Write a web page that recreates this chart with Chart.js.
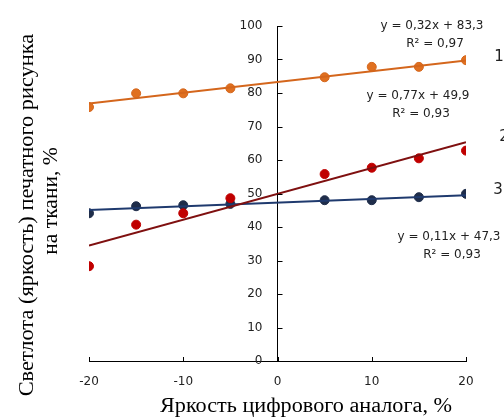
<!DOCTYPE html>
<html>
<head>
<meta charset="utf-8">
<script src="https://cdn.jsdelivr.net/npm/chart.js@4"></script>
<style>
  html, body { margin: 0; padding: 0; background: #fff; }
  #wrap { width: 504px; height: 417px; position: relative; }
</style>
</head>
<body>
<div id="wrap"><canvas id="chart" width="504" height="417"></canvas></div>
<script>
/* данные */
const xVals    = [-20, -15, -10, -5, 5, 10, 15, 20];
const series1  = [75.8, 79.9, 79.9, 81.4, 84.7, 87.8, 87.8, 89.8];   // 1 – оранжевая
const series2  = [28.3, 40.7, 44.1, 48.6, 55.8, 57.7, 60.5, 62.8];   // 2 – красная
const series3  = [44.1, 46.2, 46.5, 46.9, 48.0, 48.0, 48.9, 49.9];   // 3 – синяя
const trendX   = [-20, 20];
const trend1   = [76.9, 89.7];
const trend2   = [34.5, 65.3];
const trend3   = [45.1, 49.5];
const xTicks   = [-20, -10, 0, 10, 20];
const yTicks   = [0, 10, 20, 30, 40, 50, 60, 70, 80, 90, 100];
const eqLabels = [
  ['y = 0,32x + 83,3', 'R² = 0,97'],
  ['y = 0,77x + 49,9', 'R² = 0,93'],
  ['y = 0,11x + 47,3', 'R² = 0,93']
];
const seriesNames = ['1', '2', '3'];

const pts = (xs, ys) => xs.map((x, i) => ({ x, y: ys[i] }));

const ORANGE = '#E07020', ORANGE_L = '#D4661C';
const RED = '#C00000', RED_L = '#7F1010';
const NAVY = '#1F2D4A', NAVY_L = '#1F3A6E';

function stretchText(ctx, txt, x, y, sx) {
  ctx.save();
  ctx.translate(x, y);
  ctx.scale(sx, 1);
  ctx.fillText(txt, 0, 0);
  ctx.restore();
}

/* подписи, засечки и заголовки осей */
const decor = {
  id: 'decor',
  afterDraw(chart) {
    const { ctx, scales: { x, y } } = chart;
    const x0 = x.getPixelForValue(0), y0 = y.getPixelForValue(0);
    ctx.save();
    ctx.strokeStyle = '#000';
    ctx.lineWidth = 1;
    ctx.beginPath();
    xTicks.forEach(v => {
      const px = Math.round(x.getPixelForValue(v)) + 0.5;
      ctx.moveTo(px, y0); ctx.lineTo(px, y0 - 4);
    });
    yTicks.forEach(v => {
      const py = Math.round(y.getPixelForValue(v)) + 0.5;
      ctx.moveTo(x0, py); ctx.lineTo(x0 + 5, py);
    });
    ctx.stroke();

    // подписи оси Y слева от оси, с отступом
    ctx.fillStyle = '#222';
    ctx.font = '12px "DejaVu Sans"';
    ctx.textAlign = 'right';
    ctx.textBaseline = 'middle';
    yTicks.forEach(v => ctx.fillText(String(v), x0 - 15, y.getPixelForValue(v)));

    ctx.textAlign = 'center';
    const eqPos = [[432, 26, 44], [418, 96, 114], [449, 237, 255]];
    eqLabels.forEach((l, i) => {
      ctx.fillText(l[0], eqPos[i][0], eqPos[i][1]);
      ctx.fillText(l[1], eqPos[i][0] + 3, eqPos[i][2]);
    });
    ctx.font = '15px "DejaVu Sans"';
    const namePos = [[499, 57], [504, 137], [498, 190]];
    seriesNames.forEach((n, i) => ctx.fillText(n, namePos[i][0], namePos[i][1]));

    ctx.fillStyle = '#000';
    ctx.font = '20px "Liberation Serif"';
    stretchText(ctx, 'Яркость цифрового аналога, %', 306, 407, 1.11);
    ctx.save();
    ctx.translate(28, 215);
    ctx.rotate(-Math.PI / 2);
    stretchText(ctx, 'Светлота (яркость) печатного рисунка', 0, 0, 1.12);
    stretchText(ctx, 'на ткани, %', 14, 24, 1.08);
    ctx.restore();
    ctx.restore();
  }
};

new Chart(document.getElementById('chart'), {
  type: 'scatter',
  data: {
    datasets: [
      { data: pts(trendX, trend1), showLine: true, borderColor: ORANGE_L, borderWidth: 2, pointRadius: 0 },
      { data: pts(trendX, trend2), showLine: true, borderColor: RED_L, borderWidth: 2, pointRadius: 0 },
      { data: pts(trendX, trend3), showLine: true, borderColor: NAVY_L, borderWidth: 2, pointRadius: 0 },
      { data: pts(xVals, series1), backgroundColor: ORANGE, borderColor: ORANGE_L, pointRadius: 4.5, borderWidth: 1 },
      { data: pts(xVals, series2), backgroundColor: RED, borderColor: RED, pointRadius: 4.5, borderWidth: 1 },
      { data: pts(xVals, series3), backgroundColor: NAVY, borderColor: NAVY, pointRadius: 4.5, borderWidth: 1 }
    ]
  },
  options: {
    responsive: false,
    animation: false,
    layout: { padding: { left: 89, right: 38, top: 26, bottom: 56 } },
    plugins: { legend: { display: false }, tooltip: { enabled: false } },
    scales: {
      x: {
        type: 'linear', min: -20, max: 20,
        position: { y: 0 },
        border: { color: '#000', width: 1 },
        grid: { display: false },
        afterBuildTicks: s => { s.ticks = xTicks.map(v => ({ value: v })); },
        ticks: { color: '#222', font: { family: 'DejaVu Sans', size: 12 }, padding: 6, maxRotation: 0 }
      },
      y: {
        type: 'linear', min: 0, max: 100,
        position: { x: 0 },
        border: { color: '#000', width: 1 },
        grid: { display: false },
        afterBuildTicks: s => { s.ticks = yTicks.map(v => ({ value: v })); },
        ticks: { display: false }
      }
    }
  },
  plugins: [decor]
});
</script>
</body>
</html>
